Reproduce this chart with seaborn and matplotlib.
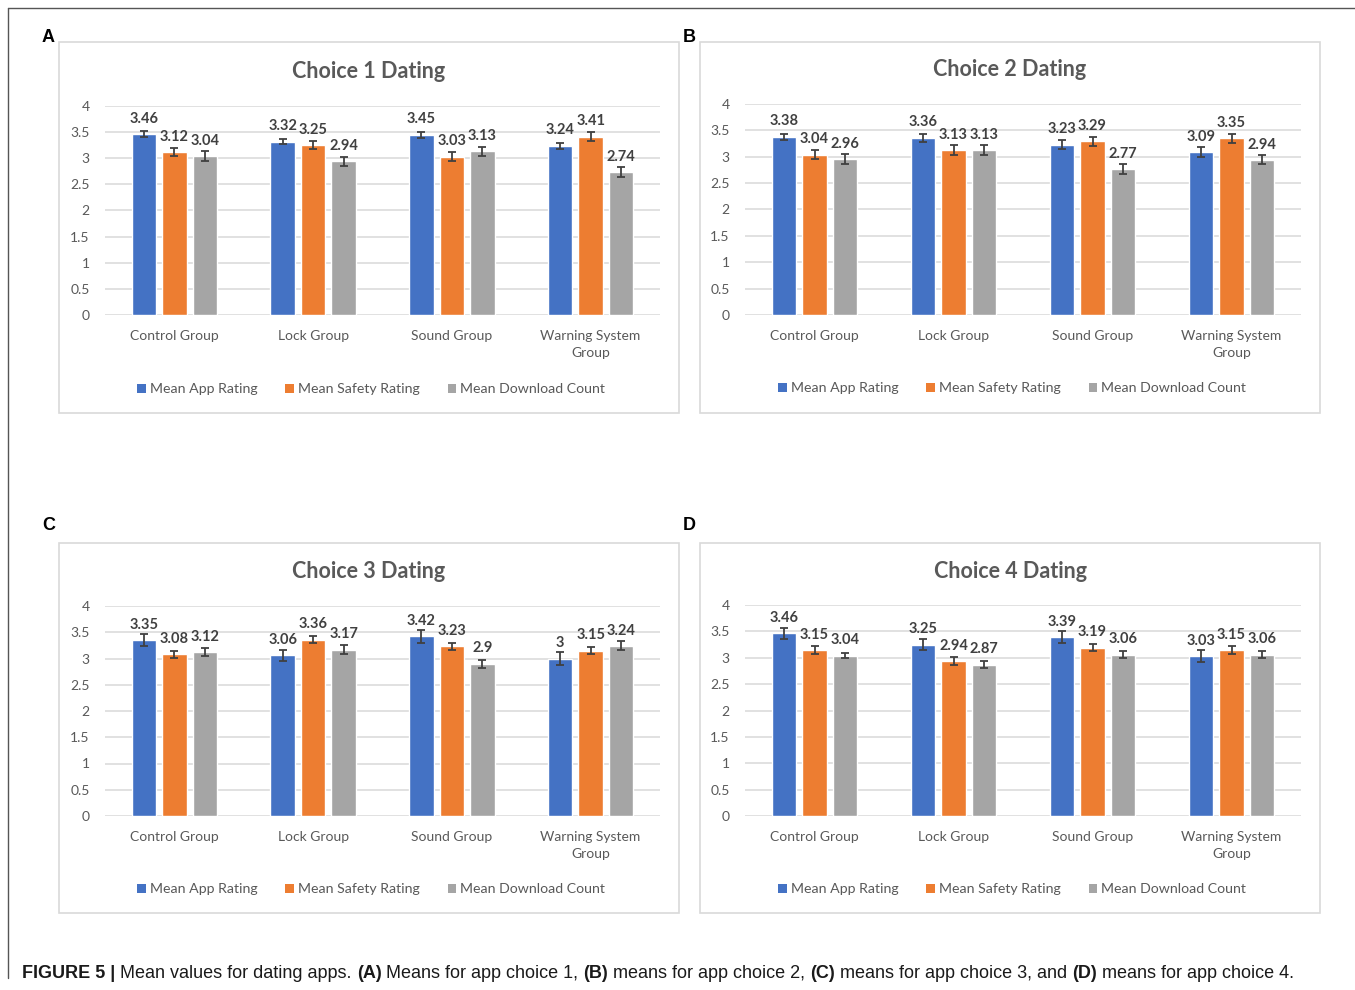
import numpy as np
import pandas as pd
import matplotlib
matplotlib.use("Agg")
import matplotlib.pyplot as plt
import seaborn as sns
from matplotlib.patches import Rectangle
from matplotlib.lines import Line2D

# ---------------- data ----------------
groups = ["Control Group", "Lock Group", "Sound Group", "Warning System\nGroup"]
measures = ["Mean App Rating", "Mean Safety Rating", "Mean Download Count"]
titles = ["Choice 1 Dating", "Choice 2 Dating", "Choice 3 Dating", "Choice 4 Dating"]
letters = ["A", "B", "C", "D"]

app_1 = [3.46, 3.32, 3.45, 3.24]
safety_1 = [3.12, 3.25, 3.03, 3.41]
download_1 = [3.04, 2.94, 3.13, 2.74]
app_err_1 = [0.055, 0.055, 0.055, 0.055]
safety_err_1 = [0.08, 0.08, 0.085, 0.085]
download_err_1 = [0.09, 0.085, 0.085, 0.09]

app_2 = [3.38, 3.36, 3.23, 3.09]
safety_2 = [3.04, 3.13, 3.29, 3.35]
download_2 = [2.96, 3.13, 2.77, 2.94]
app_err_2 = [0.06, 0.08, 0.085, 0.09]
safety_err_2 = [0.08, 0.09, 0.08, 0.08]
download_err_2 = [0.09, 0.095, 0.09, 0.085]

app_3 = [3.35, 3.06, 3.42, 3.00]
safety_3 = [3.08, 3.36, 3.23, 3.15]
download_3 = [3.12, 3.17, 2.90, 3.24]
app_err_3 = [0.12, 0.11, 0.12, 0.12]
safety_err_3 = [0.07, 0.07, 0.07, 0.07]
download_err_3 = [0.075, 0.08, 0.08, 0.085]

app_4 = [3.46, 3.25, 3.39, 3.03]
safety_4 = [3.15, 2.94, 3.19, 3.15]
download_4 = [3.04, 2.87, 3.06, 3.06]
app_err_4 = [0.11, 0.11, 0.11, 0.12]
safety_err_4 = [0.07, 0.07, 0.07, 0.07]
download_err_4 = [0.05, 0.06, 0.06, 0.06]

yticks = [0, 0.5, 1, 1.5, 2, 2.5, 3, 3.5, 4]
ytick_labels = ["0", "0.5", "1", "1.5", "2", "2.5", "3", "3.5", "4"]

panels = [
    (app_1, safety_1, download_1, app_err_1, safety_err_1, download_err_1),
    (app_2, safety_2, download_2, app_err_2, safety_err_2, download_err_2),
    (app_3, safety_3, download_3, app_err_3, safety_err_3, download_err_3),
    (app_4, safety_4, download_4, app_err_4, safety_err_4, download_err_4),
]

# ---------------- style ----------------
colors = ["#4472C4", "#ED7D31", "#A5A5A5"]
W, H = 1355, 990
sns.set_theme(style="white")
plt.rcParams["font.family"] = ["Lato", "DejaVu Sans"]

fig = plt.figure(figsize=(W / 100, H / 100), dpi=100)
fig.patch.set_facecolor("white")


def fx(x):
    return x / W


def fy(y):
    return 1 - y / H


# layout in pixels: box (x0,y0,x1,y1), axes (x0,x1,ytop,ybottom), title y, legend y, letter pos
layout = [
    dict(box=(59, 42, 679, 413), ax=(105, 660, 106, 315), title_y=72, leg_y=389, letter=(42, 37)),
    dict(box=(700, 42, 1320, 413), ax=(745, 1301, 104, 315), title_y=70, leg_y=388, letter=(683, 37)),
    dict(box=(59, 543, 679, 913), ax=(105, 660, 606, 816), title_y=572, leg_y=889, letter=(42, 526)),
    dict(box=(700, 543, 1320, 913), ax=(745, 1301, 605, 816), title_y=571, leg_y=889, letter=(683, 526)),
]

text_grey = "#595959"
for i, (vals, lay) in enumerate(zip(panels, layout)):
    a, s, d, ea, es, ed = vals
    bx0, by0, bx1, by1 = lay["box"]
    fig.add_artist(Rectangle((fx(bx0), fy(by1)), fx(bx1 - bx0), (by1 - by0) / H,
                             transform=fig.transFigure, fill=False,
                             edgecolor="#D9D9D9", linewidth=1.2))
    ax0, ax1, aty, aby = lay["ax"]
    ax = fig.add_axes([fx(ax0), fy(aby), fx(ax1 - ax0), (aby - aty) / H])

    df = pd.DataFrame({
        "group": groups * 3,
        "measure": [m for m in measures for _ in groups],
        "value": list(a) + list(s) + list(d),
    })
    sns.barplot(data=df, x="group", y="value", hue="measure", order=groups,
                hue_order=measures, palette=colors, width=0.66, gap=0.2,
                errorbar=None, saturation=1, ax=ax, legend=False, zorder=3)

    errs = [ea, es, ed]
    for cont, err in zip(ax.containers, errs):
        xs = [p.get_x() + p.get_width() / 2 for p in cont]
        hs = [p.get_height() for p in cont]
        ax.errorbar(xs, hs, yerr=err, fmt="none", ecolor="#404040",
                    elinewidth=1.3, capsize=3.2, capthick=1.3, zorder=4)
        for x, h in zip(xs, hs):
            lab = f"{h:g}"
            ax.annotate(lab, (x, h), xytext=(0, 6), textcoords="offset points",
                        ha="center", va="bottom", fontsize=10.5, fontweight="bold",
                        color="#404040", zorder=5)

    ax.set_xlim(-0.5, 3.5)
    ax.set_ylim(0, 4)
    ax.set_yticks(yticks)
    ax.set_yticklabels(ytick_labels)
    ax.yaxis.grid(True, color="#D9D9D9", linewidth=1.1, zorder=0)
    ax.set_axisbelow(True)
    for sp in ax.spines.values():
        sp.set_visible(False)
    ax.tick_params(axis="both", length=0, labelsize=10, labelcolor=text_grey)
    ax.tick_params(axis="x", pad=11)
    ax.tick_params(axis="y", pad=11)
    ax.set_xlabel("")
    ax.set_ylabel("")
    for lbl in ax.get_xticklabels():
        lbl.set_linespacing(1.5)
        lbl.set_verticalalignment("top")

    # title
    fig.text(fx((bx0 + bx1) / 2), fy(lay["title_y"]), titles[i], ha="center",
             va="center", fontsize=15.5, fontweight="bold", color=text_grey)

    # legend
    handles = [Rectangle((0, 0), 1, 1, facecolor=c, edgecolor="none") for c in colors]
    fig.legend(handles, measures, loc="center", ncol=3,
               bbox_to_anchor=(fx((bx0 + bx1) / 2 + 2), fy(lay["leg_y"])),
               bbox_transform=fig.transFigure, frameon=False, fontsize=10.2,
               labelcolor=text_grey, handlelength=0.6, handleheight=0.6,
               handletextpad=0.25, columnspacing=2.0)

    lx, ly = lay["letter"]
    fig.text(fx(lx), fy(ly), letters[i], ha="left", va="center", fontsize=13,
             fontweight="bold", color="black", family="Liberation Sans")

# outer frame lines (top and left)
fig.add_artist(Line2D([fx(8), 1.0], [fy(8), fy(8)], transform=fig.transFigure,
                      color="#555555", linewidth=1))
fig.add_artist(Line2D([fx(8), fx(8)], [fy(8), fy(978)], transform=fig.transFigure,
                      color="#555555", linewidth=1))

# caption with mixed weights
caption = [
    ("FIGURE 5 | ", "bold"),
    ("Mean values for dating apps. ", "normal"),
    ("(A)", "bold"),
    (" Means for app choice 1, ", "normal"),
    ("(B)", "bold"),
    (" means for app choice 2, ", "normal"),
    ("(C)", "bold"),
    (" means for app choice 3, and ", "normal"),
    ("(D)", "bold"),
    (" means for app choice 4.", "normal"),
]
fig.canvas.draw()
renderer = fig.canvas.get_renderer()
x = fx(22)
for txt, wt in caption:
    t = fig.text(x, fy(973), txt, ha="left", va="center", fontsize=13.0,
                 fontweight=wt, color="#1a1a1a", family="Liberation Sans")
    bb = t.get_window_extent(renderer=renderer)
    x += bb.width / W

fig.savefig("out.png", dpi=100, facecolor="white")
